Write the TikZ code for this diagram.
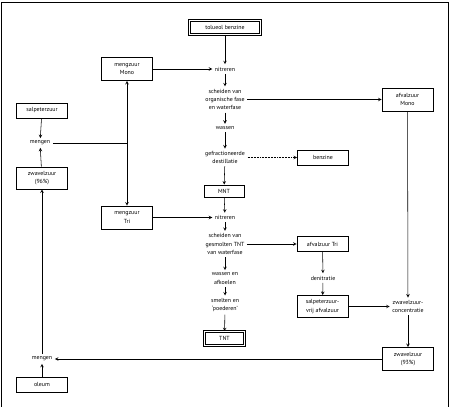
\documentclass[tikz,border=0pt]{standalone}
\usepackage{fontspec}
\setmainfont{PT Sans}
\usetikzlibrary{arrows}
\tikzstyle{box} = [draw=black, line width=0.9pt, align=center, inner sep=1pt, minimum width=51pt, minimum height=15pt]
\tikzstyle{endbox} = [box, double, double distance=1.3pt, line width=0.65pt]
\tikzstyle{stage} = [align=center, inner sep=2.5pt]
\tikzstyle{arrow} = [line width=0.55pt,->,>=stealth]

\begin{document}
\begin{tikzpicture}[x=1pt,y=-1pt,font=\fontsize{5.9}{8.3}\selectfont]
\useasboundingbox (0,0) rectangle (450,407);
\draw[line width=0.5pt] (1,407) -- (1,2) -- (448,2) -- (448,407);

%Main line
\node[endbox, minimum width=71pt, minimum height=14pt] (tol) at (225,27.5) {tolueol benzine};
\node[stage] (nitrA) at (225,69) {nitreren};
\node[stage] (schA) at (225,99.5) {scheiden van\\organische fase\\en waterfase};
\node[stage] (wasA) at (225,128) {wassen};
\node[stage] (dest) at (225,157.5) {gefractioneerde\\destillatie};
\node[box, minimum width=40pt, minimum height=12pt] (mnt) at (224,191) {MNT};
\node[stage] (nitrB) at (225,217.5) {nitreren};
\node[stage] (schB) at (225,244) {scheiden van\\gesmolten TNT\\van waterfase};
\node[stage] (wasB) at (225,278.5) {wassen en\\afkoelen};
\node[stage] (smelt) at (225,305) {smelten en\\`poederen'};
\node[endbox, minimum width=40pt, minimum height=14pt] (tnt) at (224.5,338.5) {TNT};

\draw[arrow] (tol) -- (nitrA);
\draw[arrow] (nitrA) -- (schA);
\draw[arrow] (schA) -- (wasA);
\draw[arrow] (wasA) -- (dest);
\draw[arrow] (dest) -- (mnt);
\draw[arrow] (mnt) -- (nitrB);
\draw[arrow] (nitrB) -- (schB);
\draw[arrow] (schB) -- (wasB);
\draw[arrow] (wasB) -- (smelt);
\draw[arrow] (smelt) -- (tnt);

%Mixed acid
\node[box, minimum height=23pt] (mengM) at (127,69) {mengzuur\\Mono};
\node[box, minimum height=23pt] (mengT) at (127,217.5) {mengzuur\\Tri};
\node[box] (salp) at (42,110.5) {salpeterzuur};
\node[stage] (mengA) at (40,143) {mengen};
\node[box, minimum height=22pt] (zw96) at (42,178) {zwavelzuur\\(96\%)};
\node[stage] (mengB) at (42,359) {mengen};
\node[box] (oleum) at (42,384.5) {oleum};
\coordinate (split) at (mengM.south |- mengA);

\draw[arrow] (mengM) -- (nitrA);
\draw[arrow] (mengT) -- (nitrB);
\draw[arrow,<->] (mengM) -- (mengT);
\draw[line width=0.55pt] (mengA) -- (split);
\draw[arrow] (salp) -- (mengA);
\draw[arrow] (zw96) -- (mengA);
\draw[arrow] (mengB) -- (zw96);
\draw[arrow] (oleum) -- (mengB);

%Waste acid
\node[box] (benz) at (323,157.5) {benzine};
\node[box, minimum height=23pt] (afvM) at (407.5,99.5) {afvalzuur\\Mono};
\node[box] (afvT) at (322.5,244) {afvalzuur Tri};
\node[stage] (denit) at (323,278) {denitratie};
\node[box, minimum height=22pt] (vrij) at (322.5,306.5) {salpeterzuur-\\vrij afvalzuur};
\node[stage] (conc) at (408,306.5) {zwavelzuur-\\concentratie};
\node[box, minimum height=23pt] (zw93) at (408,359) {zwavelzuur\\(93\%)};

\draw[arrow, densely dotted] (dest) -- (benz);
\draw[arrow] (schA) -- (afvM);
\draw[arrow] (schB) -- (afvT);
\draw[arrow] (afvT) -- (denit);
\draw[arrow] (denit) -- (vrij);
\draw[arrow] (vrij) -- (conc);
\draw[arrow] (afvM) -- (conc);
\draw[arrow] (conc) -- (zw93);
\draw[arrow] (zw93) -- (mengB);
\end{tikzpicture}
\end{document}
